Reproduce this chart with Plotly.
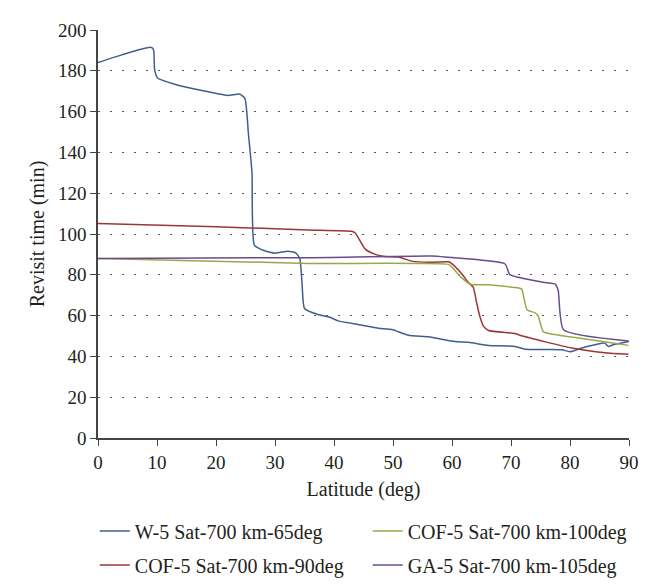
import plotly.graph_objects as go

# W-5 Sat-700 km-65deg
lat_w = [0, 4, 8.9, 9.4, 9.6, 10.1, 13, 17, 22, 24, 24.9, 25.5, 26.1, 26.5, 28, 30, 32.2, 33.5,
         34.2, 34.6, 35, 37.3, 39.3, 40.7, 43, 47.5, 49.8, 52.6, 56, 60.5, 62.8, 66.2, 70.7,
         72.4, 78.6, 80, 82, 85.9, 86.5, 87.3, 90]
val_w = [184, 187.8, 191.5, 190.5, 180.5, 176.5, 173.4, 170.7, 167.9, 168.6, 166.5, 149, 130,
         94.5, 92, 90.6, 91.6, 90.8, 88, 75, 63.5, 60.5, 59.2, 57.4, 56.2, 53.8, 53.2, 50.4,
         49.6, 47.3, 46.9, 45.4, 44.9, 43.5, 43.3, 42.3, 44.1, 46.5, 44.9, 45.7, 47.3]

# COF-5 Sat-700 km-90deg
lat_r = [0, 20, 35.7, 43, 43.6, 45.3, 47, 48.6, 50.9, 53.2, 56, 59.4, 59.9, 61.5, 62.8, 63.6,
         64.2, 64.7, 65.3, 66.2, 70.7, 71.8, 80.3, 85.9, 89.9]
val_r = [105.2, 103.5, 102, 101.3, 100.5, 92.6, 90, 89, 88.7, 86.7, 86.1, 86.4, 85.6, 81,
         76.2, 73.9, 66, 59.8, 55, 52.7, 51.2, 50.1, 44.1, 41.8, 41]

# COF-5 Sat-700 km-100deg
lat_c = [0, 35.7, 59.4, 59.9, 61.6, 63.1, 66.2, 71.2, 71.8, 72.7, 74.1, 74.6, 75.5, 77.5, 89.9]
val_c = [88, 85.6, 85.1, 84, 78.6, 75.4, 75.1, 73.6, 73.1, 62.9, 61.3, 59.8, 52, 50.7, 45.4]

# GA-5 Sat-700 km-105deg
lat_g = [0, 35.7, 56.6, 58.8, 69, 69.8, 75.8, 77.5, 78, 78.9, 89.9]
val_g = [88, 88.4, 89.2, 88.7, 85.3, 80.1, 76.2, 75.4, 72.3, 53.1, 47.6]

names = ["W-5 Sat-700 km-65deg", "COF-5 Sat-700 km-90deg",
         "COF-5 Sat-700 km-100deg", "GA-5 Sat-700 km-105deg"]
colors = ["#3d5f8e", "#9b3636", "#9aa84c", "#6a4c8a"]
legends = ["legend", "legend2", "legend3", "legend4"]
xs = [lat_w, lat_r, lat_c, lat_g]
ys = [val_w, val_r, val_c, val_g]

x_ticks = [0, 10, 20, 30, 40, 50, 60, 70, 80, 90]
y_ticks = [0, 20, 40, 60, 80, 100, 120, 140, 160, 180, 200]

FONT = "Liberation Serif, DejaVu Serif, serif"
TXT = "#231f20"

fig = go.Figure()
for x, y, n, c, lg in zip(xs, ys, names, colors, legends):
    fig.add_trace(go.Scatter(x=x, y=y, mode="lines", name=n, legend=lg, showlegend=True,
                             line=dict(color=c, width=1.5, shape="spline", smoothing=0.5)))

def leg(x, y):
    return dict(orientation="h", xanchor="left", yanchor="middle", x=x, y=y,
                font=dict(family=FONT, size=20, color=TXT),
                bgcolor="rgba(0,0,0,0)", visible=True)

fig.update_layout(
    width=654, height=588,
    showlegend=True,
    margin=dict(l=90, r=33, t=18, b=145),
    paper_bgcolor="white", plot_bgcolor="white",
    font=dict(family=FONT, size=19, color=TXT),
    legend=leg(-0.006, -0.228),
    legend2=leg(-0.006, -0.311),
    legend3=leg(0.508, -0.228),
    legend4=leg(0.508, -0.311),
    xaxis=dict(range=[0, 90], tickvals=x_ticks, ticks="outside", ticklen=6,
               tickcolor="#444", showline=True, linecolor="#444", linewidth=1.5,
               showgrid=False, zeroline=False,
               tickfont=dict(family=FONT, size=19, color=TXT),
               title=dict(text="Latitude (deg)", font=dict(family=FONT, size=20, color=TXT),
                          standoff=10)),
    yaxis=dict(range=[0, 200], tickvals=y_ticks, ticks="outside", ticklen=6,
               tickcolor="#444", showline=True, linecolor="#444", linewidth=1.5,
               showgrid=True, gridcolor="#555", gridwidth=1, griddash="2px,10px",
               zeroline=False,
               tickfont=dict(family=FONT, size=19, color=TXT),
               title=dict(text="Revisit time (min)", font=dict(family=FONT, size=20, color=TXT),
                          standoff=8)),
)

fig.write_html("out.html")
